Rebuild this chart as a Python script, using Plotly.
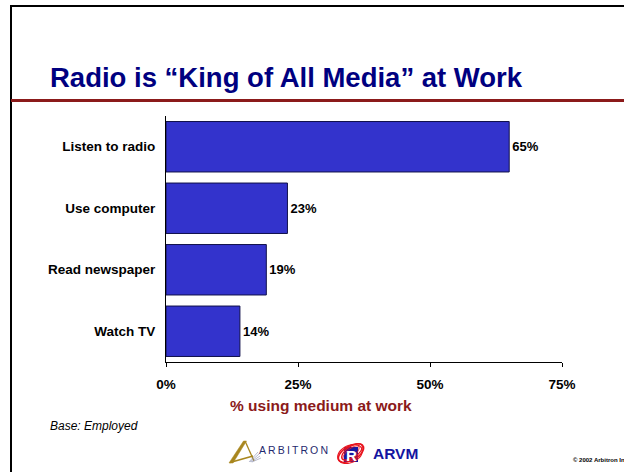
import math
import plotly.graph_objects as go

# ---- data ----
categories = ["Listen to radio", "Use computer", "Read newspaper", "Watch TV"]
values = [65, 23, 19, 14]
tick_values = [0, 25, 50, 75]
tick_labels = ["0%", "25%", "50%", "75%"]

W, H = 624, 472
L, R, T, B = 166, 62, 116, 110
PW, PH = W - L - R, H - T - B

FONT = "Liberation Sans, Arial, Helvetica, sans-serif"


def px(x):
    return (x - L) / PW


def py(y):
    return (H - B - y) / PH


fig = go.Figure()
fig.add_trace(go.Bar(
    x=values,
    y=categories,
    orientation="h",
    marker=dict(color="#3333CC", line=dict(color="#10104a", width=1)),
    texttemplate="<b>%{x}%</b>",
    textposition="outside",
    textfont=dict(family=FONT, size=13, color="#000000"),
    cliponaxis=False,
    hoverinfo="skip",
))

fig.update_layout(
    width=W, height=H,
    margin=dict(l=L, r=R, t=T, b=B, pad=0),
    paper_bgcolor="white",
    plot_bgcolor="white",
    showlegend=False,
    bargap=0.18,
    font=dict(family=FONT, color="#000000"),
    xaxis=dict(
        range=[0, 75],
        tickvals=tick_values,
        ticktext=[f"<b>{t}</b>" for t in tick_labels],
        tickfont=dict(size=13.5, color="#000000"),
        showgrid=False,
        zeroline=False,
        showline=True,
        linecolor="#000000",
        linewidth=1,
        ticks="outside",
        ticklen=4,
        tickcolor="#000000",
        ticklabelstandoff=6,
        automargin=False,
        fixedrange=True,
    ),
    yaxis=dict(
        categoryorder="array",
        categoryarray=categories,
        autorange="reversed",
        tickvals=categories,
        ticktext=[f"<b>{c}</b>" for c in categories],
        tickfont=dict(size=13.5, color="#000000"),
        showgrid=False,
        zeroline=False,
        showline=True,
        linecolor="#000000",
        linewidth=1,
        ticks="",
        ticklabelstandoff=7,
        automargin=False,
        fixedrange=True,
    ),
)

shapes = []
# slide frame: top and left rules
shapes.append(dict(type="line", xref="paper", yref="paper",
                   x0=px(10), x1=px(W), y0=py(6), y1=py(6),
                   line=dict(color="#000000", width=2)))
shapes.append(dict(type="line", xref="paper", yref="paper",
                   x0=px(11), x1=px(11), y0=py(5), y1=py(H),
                   line=dict(color="#000000", width=2)))
# dark red rule under the title
shapes.append(dict(type="line", xref="paper", yref="paper",
                   x0=px(11), x1=px(W), y0=py(100.5), y1=py(100.5),
                   line=dict(color="#8B1A1A", width=3)))


def path(points, close=True):
    s = "M " + " L ".join(f"{px(x)},{py(y)}" for x, y in points)
    return s + (" Z" if close else "")


# Arbitron mark: stylised gold "A"
GOLD = "#A8861E"
shapes.append(dict(type="path", xref="paper", yref="paper",
                   path=path([(229, 463), (243.5, 441), (246.5, 441), (233, 463)]),
                   fillcolor=GOLD, line=dict(color=GOLD, width=0.5)))
shapes.append(dict(type="line", xref="paper", yref="paper",
                   x0=px(245.5), y0=py(442), x1=px(254), y1=py(461),
                   line=dict(color=GOLD, width=1.3)))
shapes.append(dict(type="line", xref="paper", yref="paper",
                   x0=px(230), y0=py(462.5), x1=px(253), y1=py(456),
                   line=dict(color=GOLD, width=1.8)))
for i, (xa, ya) in enumerate([(258, 452), (259, 454), (260, 456), (261, 458)]):
    shapes.append(dict(type="line", xref="paper", yref="paper",
                       x0=px(249 + i), y0=py(462), x1=px(xa), y1=py(ya),
                       line=dict(color="#8a8fb0", width=0.6)))


# ARVM mark: tilted red swirl around a blue square "R"
def ellipse(cx, cy, rx, ry, tilt_deg, n=40):
    t = math.radians(tilt_deg)
    pts = []
    for k in range(n + 1):
        a = 2 * math.pi * k / n
        ex, ey = rx * math.cos(a), ry * math.sin(a)
        pts.append((cx + ex * math.cos(t) + ey * math.sin(t),
                    cy - ex * math.sin(t) + ey * math.cos(t)))
    return path(pts, close=False)


shapes.append(dict(type="rect", xref="paper", yref="paper",
                   x0=px(344), x1=px(358), y0=py(447), y1=py(462),
                   fillcolor="#1818A0", line=dict(width=0)))
for (cx, cy, rx, ry, tilt, w) in [(351, 453, 14, 7, 30, 1.6),
                                  (352, 452, 12, 5.5, 35, 1.3),
                                  (350, 454, 13, 8.5, 25, 1.2),
                                  (351, 453, 10, 4, 40, 1.0)]:
    shapes.append(dict(type="path", xref="paper", yref="paper",
                       path=ellipse(cx, cy, rx, ry, tilt),
                       line=dict(color="#E8141E", width=w)))
fig.update_layout(shapes=shapes)

annotations = [
    dict(text="<b>Radio is “King of All Media” at Work</b>",
         x=px(48), y=py(78), xanchor="left", yanchor="middle",
         font=dict(size=27.5, color="#000080", family=FONT)),
    dict(text="<b>% using medium at work</b>",
         x=px(321), y=py(405), xanchor="center", yanchor="middle",
         font=dict(size=15.5, color="#8B1A1A", family=FONT)),
    dict(text="<i>Base: Employed</i>",
         x=px(48), y=py(426), xanchor="left", yanchor="middle",
         font=dict(size=12, color="#000000", family=FONT)),
    dict(text="\u2009".join("ARBITRON"),
         x=px(257), y=py(450), xanchor="left", yanchor="middle",
         font=dict(size=10.5, color="#1F2A6E", family=FONT)),
    dict(text="<b>R</b>",
         x=px(351), y=py(455), xanchor="center", yanchor="middle",
         font=dict(size=15, color="#FFFFFF", family=FONT)),
    dict(text="<b>ARVM</b>",
         x=px(371), y=py(453), xanchor="left", yanchor="middle",
         font=dict(size=15.5, color="#1414A0", family=FONT)),
    dict(text="<b>© 2002 Arbitron Inc.</b>",
         x=px(571), y=py(460), xanchor="left", yanchor="middle",
         font=dict(size=6, color="#000000", family=FONT)),
]
for a in annotations:
    a.update(xref="paper", yref="paper", showarrow=False)
fig.update_layout(annotations=annotations)

fig.write_html("out.html", config={"displayModeBar": False})
